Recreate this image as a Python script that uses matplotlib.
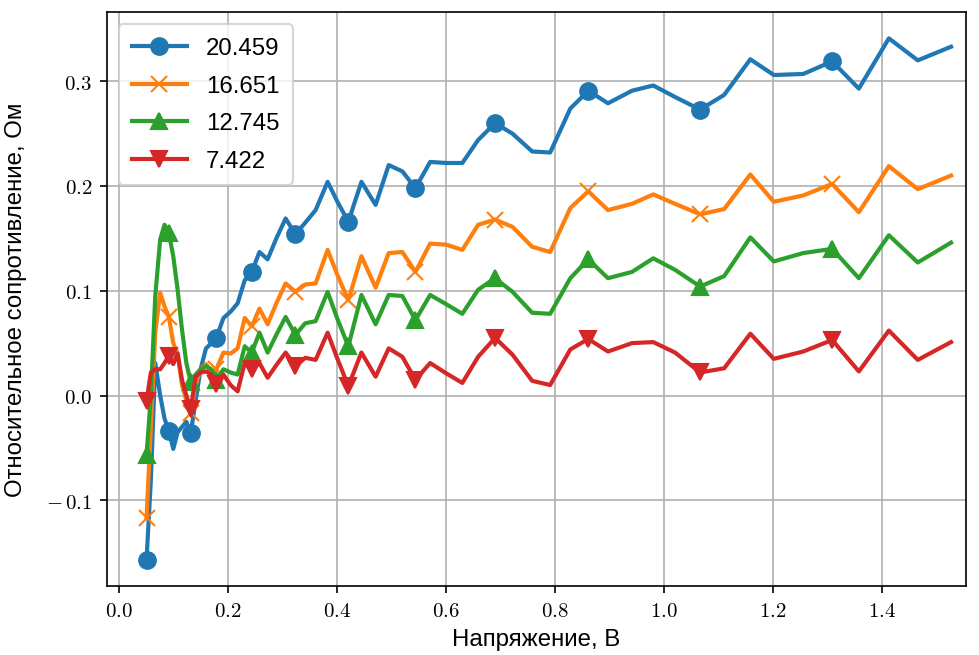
import matplotlib
matplotlib.use('Agg')
import matplotlib.pyplot as plt
from matplotlib.ticker import FuncFormatter, MultipleLocator

plt.rcParams['mathtext.fontset'] = 'cm'
plt.rcParams['font.family'] = ['Liberation Sans', 'DejaVu Sans']

# напряжение, В
voltage = [0.051, 0.059, 0.067, 0.076, 0.084, 0.092, 0.100, 0.108, 0.116, 0.124,
           0.132, 0.141, 0.150, 0.160, 0.170, 0.179, 0.192, 0.205, 0.218, 0.231,
           0.244, 0.258, 0.273, 0.289, 0.306, 0.324, 0.342, 0.361, 0.383, 0.401,
           0.421, 0.445, 0.471, 0.495, 0.520, 0.544, 0.571, 0.601, 0.630, 0.659,
           0.690, 0.722, 0.758, 0.791, 0.828, 0.861, 0.897, 0.941, 0.980, 1.020,
           1.066, 1.110, 1.158, 1.201, 1.255, 1.308, 1.357, 1.412, 1.465, 1.526]

r_20459 = [-0.157, -0.080, 0.031, 0.000, -0.022, -0.034, -0.051, -0.035, -0.030, -0.025,
           -0.036, -0.005, 0.025, 0.045, 0.050, 0.055, 0.074, 0.080, 0.088, 0.110,
           0.118, 0.137, 0.130, 0.150, 0.169, 0.154, 0.165, 0.177, 0.204, 0.185,
           0.166, 0.204, 0.182, 0.220, 0.214, 0.198, 0.223, 0.222, 0.222, 0.244,
           0.260, 0.250, 0.233, 0.232, 0.274, 0.291, 0.279, 0.291, 0.296, 0.285,
           0.273, 0.287, 0.321, 0.306, 0.307, 0.319, 0.293, 0.341, 0.320, 0.333]

r_16651 = [-0.117, -0.030, 0.060, 0.098, 0.085, 0.075, 0.050, 0.040, 0.010, -0.005,
           -0.017, 0.010, 0.025, 0.030, 0.022, 0.025, 0.041, 0.040, 0.045, 0.074,
           0.066, 0.083, 0.068, 0.088, 0.107, 0.099, 0.106, 0.107, 0.139, 0.115,
           0.091, 0.133, 0.103, 0.136, 0.137, 0.118, 0.145, 0.144, 0.139, 0.163,
           0.168, 0.161, 0.142, 0.137, 0.179, 0.195, 0.177, 0.183, 0.192, 0.183,
           0.173, 0.178, 0.211, 0.185, 0.191, 0.202, 0.175, 0.219, 0.197, 0.210]

r_12745 = [-0.057, 0.000, 0.095, 0.149, 0.163, 0.155, 0.133, 0.101, 0.063, 0.031,
           0.013, 0.020, 0.025, 0.028, 0.025, 0.015, 0.025, 0.022, 0.020, 0.047,
           0.041, 0.060, 0.041, 0.058, 0.075, 0.058, 0.069, 0.071, 0.099, 0.073,
           0.047, 0.096, 0.068, 0.096, 0.095, 0.072, 0.096, 0.087, 0.078, 0.101,
           0.112, 0.099, 0.079, 0.078, 0.112, 0.130, 0.112, 0.118, 0.131, 0.120,
           0.104, 0.114, 0.151, 0.128, 0.136, 0.140, 0.112, 0.153, 0.127, 0.146]

r_7422 = [-0.005, 0.022, 0.025, 0.025, 0.031, 0.038, 0.030, 0.040, 0.015, 0.000,
          -0.013, 0.018, 0.022, 0.023, 0.020, 0.011, 0.020, 0.010, 0.004, 0.031,
          0.025, 0.031, 0.017, 0.029, 0.041, 0.028, 0.036, 0.034, 0.060, 0.035,
          0.009, 0.041, 0.018, 0.045, 0.037, 0.015, 0.031, 0.021, 0.012, 0.037,
          0.055, 0.039, 0.014, 0.010, 0.044, 0.054, 0.042, 0.050, 0.051, 0.041,
          0.022, 0.026, 0.059, 0.035, 0.042, 0.053, 0.023, 0.062, 0.034, 0.051]

labels = ['20.459', '16.651', '12.745', '7.422']
markers = ['o', 'x', '^', 'v']


def tick_fmt(v, pos):
    s = '%.1f' % v
    if s.startswith('-'):
        s = r'-\,' + s[1:]
    return '$' + s + '$'


fig = plt.figure(figsize=(6.527, 4.373), dpi=150)
ax = fig.add_axes([0.109, 0.105, 0.878, 0.875])

for y, lab, m in zip([r_20459, r_16651, r_12745, r_7422], labels, markers):
    ax.plot(voltage, y, marker=m, markevery=5, lw=2, ms=8, label=lab)

ax.set_xlim(-0.022, 1.554)
ax.set_ylim(-0.182, 0.366)
ax.xaxis.set_major_locator(MultipleLocator(0.2))
ax.yaxis.set_major_locator(MultipleLocator(0.1))
ax.xaxis.set_major_formatter(FuncFormatter(tick_fmt))
ax.yaxis.set_major_formatter(FuncFormatter(tick_fmt))
ax.tick_params(labelsize=10)
ax.grid(True)

ax.set_xlabel('Напряжение, В', fontsize=11.5)
ax.set_ylabel('Относительное сопротивление, Ом', fontsize=11.5, labelpad=9)
ax.legend(loc='upper left', fontsize=11.5, labelspacing=0.65,
          handlelength=2.3, borderpad=0.55)

plt.savefig('out.png')
